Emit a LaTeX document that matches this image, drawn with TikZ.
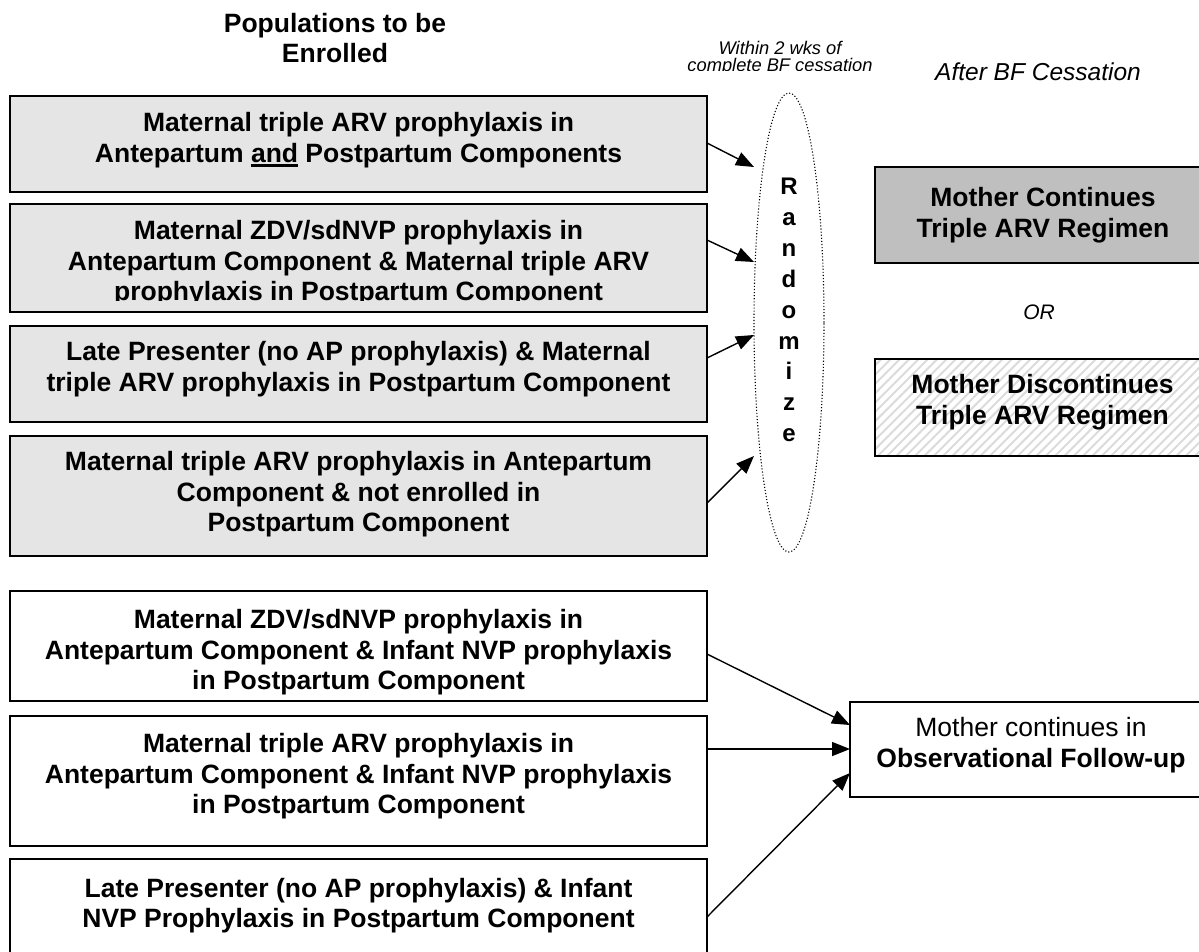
\documentclass[tikz,border=0pt]{standalone}
\usepackage{fontspec}
\setmainfont{Liberation Sans}
\usepackage{tikz}
\usetikzlibrary{shapes,positioning,arrows.meta,patterns.meta}

\newcommand{\thickund}[1]{\leavevmode\setbox0\hbox{#1}\rlap{\rule[-4.5pt]{\wd0}{2.5pt}}\box0\relax}

\tikzset{
 popbox/.style={draw,line width=2pt,anchor=north west,outer sep=0pt,inner sep=0pt,minimum width=697pt},
 popgrey/.style={popbox,fill=black!10},
 poptext/.style={align=center,font=\fontsize{26.5}{30.5}\selectfont\bfseries},
 armbox/.style={draw,line width=2pt,anchor=north west,outer sep=0pt,inner sep=0pt,minimum width=360pt},
 conn/.style={line width=1.4pt,-{Triangle[length=18pt,width=14pt]}},
}

\begin{document}
\begin{tikzpicture}[x=1pt,y=-1pt]
 \useasboundingbox (0,0) rectangle (1199,951);
 \node[poptext] (head) at (335,38) {Populations to be\\Enrolled};
 \begin{scope}
  \clip (600,0) rectangle (960,70);
  \node[align=center,font=\fontsize{18.3}{17}\selectfont\itshape] (wks) at (780,58) {Within 2 wks of\\complete BF cessation};
 \end{scope}
 \node[font=\fontsize{24.5}{28}\selectfont\itshape] (after) at (1038,72) {After BF Cessation};

 \node[popgrey,minimum height=96pt] (pop1) at (10,96) {};
 \node[popgrey,minimum height=108pt] (pop2) at (10,203.5) {};
 \node[popgrey,minimum height=96pt] (pop3) at (10,325.5) {};
 \node[popgrey,minimum height=120.5pt] (pop4) at (10,435.5) {};
 \node[popbox,minimum height=110pt] (pop5) at (10,591) {};
 \node[popbox,minimum height=130pt] (pop6) at (10,715.5) {};
 \node[popbox,minimum height=101pt] (pop7) at (10,859) {};

 \node[poptext] (txt1) at (358.5,140) {Maternal triple ARV prophylaxis in\\Antepartum \thickund{and} Postpartum Components};
 \begin{scope}
  \clip (10,203.5) rectangle (707,300);
  \node[poptext] (txt2) at (358.5,263.5) {Maternal ZDV/sdNVP prophylaxis in\\Antepartum Component \& Maternal triple ARV\\prophylaxis in Postpartum Component};
 \end{scope}
 \node[poptext] (txt3) at (358.5,369) {Late Presenter (no AP prophylaxis) \& Maternal\\triple ARV prophylaxis in Postpartum Component};
 \node[poptext] (txt4) at (358.5,494.5) {Maternal triple ARV prophylaxis in Antepartum\\Component \& not enrolled in\\Postpartum Component};
 \node[poptext] (txt5) at (358.5,652.5) {Maternal ZDV/sdNVP prophylaxis in\\Antepartum Component \& Infant NVP prophylaxis\\in Postpartum Component};
 \node[poptext] (txt6) at (358.5,776.5) {Maternal triple ARV prophylaxis in\\Antepartum Component \& Infant NVP prophylaxis\\in Postpartum Component};
 \node[poptext] (txt7) at (358.5,905.5) {Late Presenter (no AP prophylaxis) \& Infant\\NVP Prophylaxis in Postpartum Component};

 \node[draw,ellipse,dotted,line width=1.1pt,minimum width=70pt,minimum height=459pt,inner sep=0pt,outer sep=0pt] (rand) at (789,322.5) {};
 \node[align=center,font=\fontsize{24}{30.9}\selectfont\bfseries] (randtxt) at (789,310) {R\\a\\n\\d\\o\\m\\i\\z\\e};

 \node[armbox,fill=black!25,minimum height=96pt] (cont) at (874.5,167) {};
 \node[poptext] (conttxt) at (1043,215) {Mother Continues\\Triple ARV Regimen};
 \node[font=\fontsize{21}{25}\selectfont\itshape] (or) at (1039,312) {OR};
 \node[armbox,pattern={Lines[angle=45,distance=6.6pt,line width=2pt]},pattern color=black!14,minimum height=97.5pt] (disc) at (874.5,358.5) {};
 \node[poptext] (disctxt) at (1042.5,402) {Mother Discontinues\\Triple ARV Regimen};

 \node[armbox,minimum height=95pt] (obs) at (850,702) {};
 \node[align=center,font=\fontsize{26.5}{31}\selectfont] (obstxt) at (1031,745) {Mother continues in\\\textbf{Observational Follow-up}};

 \draw[conn] ([yshift=1pt]pop1.east) -- ([yshift=155.5pt]rand.west);
 \draw[conn] ([yshift=17.5pt]pop2.east) -- ([yshift=60.5pt]rand.west);
 \draw[conn] ([yshift=15.5pt]pop3.east) -- ([yshift=-12.5pt]rand.west);
 \draw[conn] ([yshift=-7.25pt]pop4.east) -- ([yshift=-133.5pt]rand.west);
 \draw[conn] ([yshift=-8pt]pop5.east) -- ([yshift=24.5pt]obs.west);
 \draw[conn] ([yshift=31.5pt]pop6.east) -- ([yshift=0.5pt]obs.west);
 \draw[conn] ([yshift=-7.5pt]pop7.east) -- ([yshift=-23.5pt]obs.west);
\end{tikzpicture}
\end{document}
